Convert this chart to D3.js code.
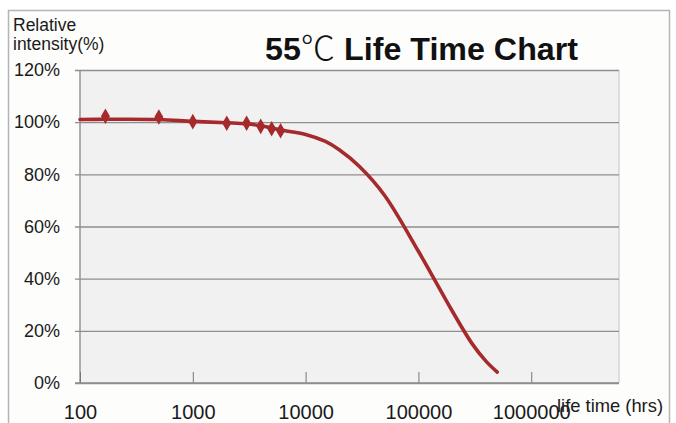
<!DOCTYPE html>
<html>
<head>
<meta charset="utf-8">
<script src="https://cdn.jsdelivr.net/npm/d3@7"></script>
<style>
  html, body { margin: 0; padding: 0; background: #ffffff; }
  svg { display: block; }
</style>
</head>
<body>
<svg id="chart" width="676" height="423"></svg>
<script>
// ---- data ----
const lineHours  = [100, 168, 500, 1000, 2000, 3000, 4000, 5000, 6000, 10000, 15000, 20000, 30000, 50000, 100000, 200000, 300000, 400000, 500000];
const lineValues = [101, 101.1, 101, 100.3, 99.8, 99.4, 98.6, 97.8, 97.0, 95.3, 92.6, 89.3, 83.0, 72.0, 50.5, 27.5, 15.0, 8.2, 4.2];
const markerHours  = [168, 500, 1000, 2000, 3000, 4000, 5000, 6000];
const markerValues = [102.3, 102, 100.2, 99.6, 99.6, 98.4, 97.5, 96.7];
const xTicks = [100, 1000, 10000, 100000, 1000000];
const yTicks = [0, 20, 40, 60, 80, 100, 120];
const titleMain = "55";
const titleUnit = "\u2103";
const titleRest = " Life Time Chart";
const yTitle = ["Relative", "intensity(%)"];
const xTitle = "life time (hrs)";

// ---- layout ----
const svg = d3.select("#chart");
const W = 676, H = 423;
const plot = { left: 80, right: 619, top: 70, bottom: 383 };
const red = "#a62a2c";
const grid = "#8e8e8e";

svg.append("rect").attr("x", 0).attr("y", 0).attr("width", W).attr("height", H).attr("fill", "#ffffff");
svg.append("rect").attr("x", 8.5).attr("y", 10.5).attr("width", 661).attr("height", 420)
  .attr("fill", "#fdfdfc").attr("stroke", "#b4b4b4").attr("stroke-width", 1.5);

const x = d3.scaleLog().domain([100, 6e6]).range([plot.left, plot.right]);
const y = d3.scaleLinear().domain([0, 120]).range([plot.bottom, plot.top]);

svg.append("rect").attr("x", plot.left).attr("y", plot.top)
  .attr("width", plot.right - plot.left).attr("height", plot.bottom - plot.top)
  .attr("fill", "#f1f1f1");
svg.append("line").attr("x1", plot.right).attr("x2", plot.right).attr("y1", plot.top).attr("y2", plot.bottom)
  .attr("stroke", "#d4d4d4").attr("stroke-width", 1.5);

// y axis with gridlines
const yAxis = d3.axisLeft(y).tickValues(yTicks).tickFormat(d => d + "%")
  .tickSize(-(plot.right - plot.left)).tickPadding(20);
const gy = svg.append("g").attr("transform", `translate(${plot.left},0)`).call(yAxis);
gy.select(".domain").remove();
gy.selectAll(".tick line").attr("stroke", grid).attr("stroke-width", 1.4).attr("x1", -5);
gy.selectAll(".tick text").attr("font-family", "Liberation Sans, Arial, sans-serif")
  .attr("font-size", 18).attr("fill", "#1a1a1a").attr("x", -20);
svg.append("line").attr("x1", plot.left).attr("x2", plot.left).attr("y1", plot.top).attr("y2", plot.bottom)
  .attr("stroke", grid).attr("stroke-width", 1.4);

// x axis
const xAxis = d3.axisBottom(x).tickValues(xTicks).tickFormat(d3.format("d")).tickSize(0).tickPadding(22);
const gx = svg.append("g").attr("transform", `translate(0,${plot.bottom})`).call(xAxis);
gx.select(".domain").remove();
gx.selectAll(".tick text").attr("font-family", "Liberation Sans, Arial, sans-serif")
  .attr("font-size", 20).attr("fill", "#1a1a1a");
gx.selectAll(".tick").append("line").attr("x1", 0).attr("x2", 0).attr("y1", -11).attr("y2", 0)
  .attr("stroke", "#777").attr("stroke-width", 1);
svg.append("line").attr("x1", plot.left - 5).attr("x2", plot.right).attr("y1", plot.bottom).attr("y2", plot.bottom)
  .attr("stroke", grid).attr("stroke-width", 1.6);

// curve
const pts = lineHours.map((h, i) => [x(h), y(lineValues[i])]);
svg.append("path").attr("d", d3.line().curve(d3.curveCatmullRom.alpha(0.5))(pts))
  .attr("fill", "none").attr("stroke", red).attr("stroke-width", 3.6)
  .attr("stroke-linecap", "round").attr("stroke-linejoin", "round");

// markers
const diamond = d3.symbol().type(d3.symbolDiamond).size(70);
svg.append("g").selectAll("path").data(markerHours).join("path")
  .attr("transform", (h, i) => `translate(${x(h)},${y(markerValues[i])})`)
  .attr("d", diamond).attr("fill", red);

// title
const t = svg.append("text").attr("x", 265).attr("y", 60)
  .attr("font-family", "Liberation Sans, Arial, sans-serif").attr("font-weight", "bold")
  .attr("font-size", 31).attr("fill", "#111")
  .attr("textLength", 313).attr("lengthAdjust", "spacingAndGlyphs");
t.append("tspan").text(titleMain);
t.append("tspan").text(titleUnit).attr("font-family", "'Noto Sans CJK SC', sans-serif")
  .attr("font-weight", 300).attr("font-size", 33);
t.append("tspan").text(titleRest);

// axis titles
svg.append("g").selectAll("text").data(yTitle).join("text")
  .attr("x", 13).attr("y", (d, i) => 31 + i * 19).text(d => d)
  .attr("font-family", "Liberation Sans, Arial, sans-serif").attr("font-size", 17.5).attr("fill", "#1a1a1a");

svg.append("text").attr("x", 557).attr("y", 412).text(xTitle)
  .attr("font-family", "Liberation Sans, Arial, sans-serif").attr("font-size", 19).attr("fill", "#1a1a1a")
  .attr("textLength", 106).attr("lengthAdjust", "spacingAndGlyphs");
</script>
</body>
</html>
